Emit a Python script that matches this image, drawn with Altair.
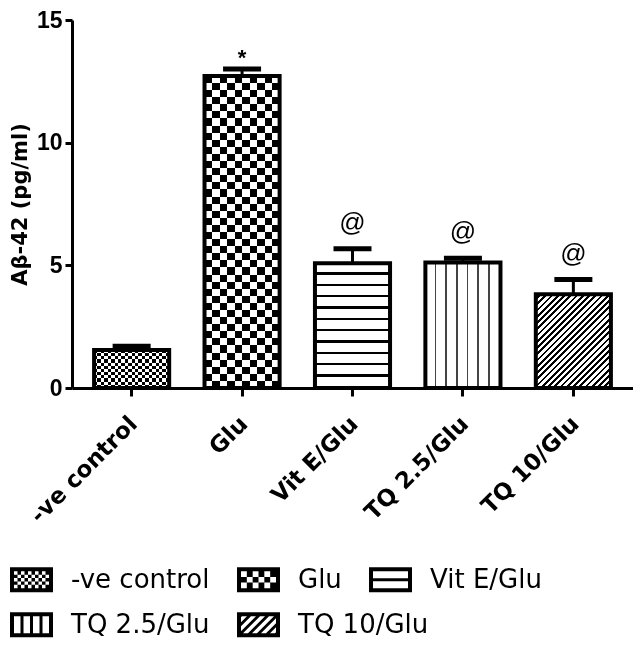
import altair as alt
import pandas as pd

# ---------------- data ----------------
categories = ["-ve control", "Glu", "Vit E/Glu", "TQ 2.5/Glu", "TQ 10/Glu"]
means = [1.55, 12.72, 5.08, 5.12, 3.82]
errors = [0.15, 0.28, 0.60, 0.17, 0.60]
sig_marks = ["", "*", "@", "@", "@"]
y_ticks = [0, 5, 10, 15]
y_title = "A\u03b2-42 (pg/ml)"
legend_rows = [categories[:3], categories[3:]]

df = pd.DataFrame({"group": categories, "mean": means, "err": errors, "sig": sig_marks})
df["top"] = df["mean"] + df["err"]

# ---------------- pattern helpers (style only) ----------------
def stripes(n, frac_dark, x2, y2, dark="black", light="white"):
    stops = []
    for i in range(n):
        a = i / n
        b = (i + 1 - frac_dark) / n
        c = (i + 1) / n
        stops += [
            alt.GradientStop(color=light, offset=round(a, 5)),
            alt.GradientStop(color=light, offset=round(b, 5)),
            alt.GradientStop(color=dark, offset=round(b, 5)),
            alt.GradientStop(color=dark, offset=round(c, 5)),
        ]
    return alt.LinearGradient(gradient="linear", stops=stops, x1=0, y1=0, x2=x2, y2=y2)

fill_specs = {
    "-ve control": [(stripes(11, 0.5, 1, 0), None), (stripes(6, 0.5, 0, 1), "difference")],
    "Glu": [(stripes(5, 0.5, 1, 0), None), (stripes(22, 0.5, 0, 1), "difference")],
    "Vit E/Glu": [(stripes(11, 0.2, 0, 1), None)],
    "TQ 2.5/Glu": [(stripes(7, 0.15, 1, 0, dark="#444444"), None)],
    "TQ 10/Glu": [(stripes(27, 0.45, 0.878, 1.098), None)],
}

# legend symbol paths (black body with white holes)
R = 21.5
HW, HH, B = 21.5, 12.5, 4.0
XI0, XI1, YI0, YI1 = -HW + B, HW - B, -HH + B, HH - B

def sarea(pts):
    s = 0.0
    for k in range(len(pts)):
        x1, y1 = pts[k]
        x2, y2 = pts[(k + 1) % len(pts)]
        s += x1 * y2 - x2 * y1
    return s

def poly(pts, hole=False):
    if hole and sarea(pts) > 0:
        pts = pts[::-1]
    if not hole and sarea(pts) < 0:
        pts = pts[::-1]
    return "M" + "L".join(f"{x / R:.3f},{y / R:.3f}" for x, y in pts) + "Z"

def rect(x0, y0, x1, y1):
    return [(x0, y0), (x1, y0), (x1, y1), (x0, y1)]

OUTER = poly(rect(-HW, -HH, HW, HH))

def checker_path(nx, ny):
    cw, ch = (XI1 - XI0) / nx, (YI1 - YI0) / ny
    p = OUTER
    for i in range(nx):
        for j in range(ny):
            if (i + j) % 2 == 0:
                p += poly(rect(XI0 + i * cw, YI0 + j * ch, XI0 + (i + 1) * cw, YI0 + (j + 1) * ch), True)
    return p

def clip(pts, f):
    out = []
    for k in range(len(pts)):
        p, q = pts[k], pts[(k + 1) % len(pts)]
        fp, fq = f(p), f(q)
        if fp >= 0:
            out.append(p)
        if (fp >= 0) != (fq >= 0):
            t = fp / (fp - fq)
            out.append((p[0] + t * (q[0] - p[0]), p[1] + t * (q[1] - p[1])))
    return out

def diag_path(period=9.0, white=5.0):
    p = OUTER
    c = -(HW + HH) - period
    while c < HW + HH:
        c0, c1 = c, c + white
        band = clip(rect(XI0, YI0, XI1, YI1), lambda q: q[0] + q[1] - c0)
        band = clip(band, lambda q: c1 - (q[0] + q[1])) if band else band
        if len(band) >= 3 and abs(sarea(band)) > 0.5:
            p += poly(band, True)
        c += period
    return p

hpath = OUTER + poly(rect(XI0, YI0, XI1, -1.5), True) + poly(rect(XI0, 1.5, XI1, YI1), True)
vw = (XI1 - XI0 - 9) / 4
vpath = OUTER + "".join(
    poly(rect(XI0 + k * (vw + 3), YI0, XI0 + k * (vw + 3) + vw, YI1), True) for k in range(4)
)
shape_paths = dict(zip(categories, [checker_path(10, 5), checker_path(6, 3), hpath, vpath, diag_path()]))

# ---------------- chart ----------------
x_enc = alt.X(
    "group:N",
    sort=categories,
    scale=alt.Scale(domain=categories, paddingInner=0.32, paddingOuter=0.2),
    title=None,
    axis=alt.Axis(
        labelAngle=-45, labelAlign="right", labelBaseline="middle",
        labelFont="DejaVu Sans", labelFontWeight="bold", labelFontSize=23,
        labelColor="black", labelPadding=24, labelOffset=2,
        tickSize=8, tickWidth=3, tickColor="black",
        domainWidth=3, domainColor="black", grid=False,
    ),
)

def y_enc(field):
    return alt.Y(
        f"{field}:Q",
        scale=alt.Scale(domain=[0, 15], nice=False),
        title=y_title,
        axis=alt.Axis(
            values=y_ticks, labelFont="Liberation Sans", labelFontWeight="bold",
            labelFontSize=23, labelColor="black", labelPadding=3,
            tickSize=7, tickWidth=3, tickColor="black",
            domainWidth=3, domainColor="black", grid=False,
            titleFont="DejaVu Sans", titleFontWeight="bold", titleFontSize=21,
            titleColor="black", titleX=-42,
        ),
    )

base = alt.Chart(df).encode(x=x_enc, y=y_enc("mean"))

layers = []
for cat in categories:
    for grad, blend in fill_specs[cat]:
        kw = {"fill": grad, "strokeWidth": 0}
        if blend:
            kw["blend"] = blend
        layers.append(base.transform_filter(alt.datum.group == cat).mark_bar(**kw))

outline = base.mark_bar(fillOpacity=0, stroke="black", strokeWidth=4)
stem = base.mark_rule(color="black", strokeWidth=3).encode(y=y_enc("mean"), y2="top:Q")
cap = base.mark_tick(color="black", opacity=1, thickness=5, size=38).encode(y=y_enc("top"))
star = base.transform_filter(alt.datum.sig == "*").mark_text(
    font="Liberation Sans", fontWeight="bold", fontSize=22, baseline="alphabetic", dy=-4, color="black"
).encode(y=y_enc("top"), text="sig:N")
at = base.transform_filter(alt.datum.sig == "@").mark_text(
    font="Liberation Sans", fontSize=26, baseline="alphabetic", dy=-18, color="black"
).encode(y=y_enc("top"), text="sig:N")

legend_layers = []
for row, ly in zip(legend_rows, [538, 583]):
    legend_layers.append(
        base.transform_filter(alt.FieldOneOfPredicate(field="group", oneOf=row))
        .mark_point(filled=True, opacity=0, size=1849, color="black")
        .encode(
            shape=alt.Shape(
                "group:N",
                sort=row,
                scale=alt.Scale(domain=row, range=[shape_paths[c] for c in row]),
                legend=alt.Legend(
                    title=None, orient="none", legendX=-62, legendY=ly,
                    direction="horizontal", columnPadding=27, labelOffset=18,
                    symbolSize=1849, symbolStrokeWidth=0, symbolFillColor="black",
                    symbolOpacity=1, labelFont="DejaVu Sans", labelFontSize=26,
                    labelColor="black", labelLimit=400, padding=0,
                ),
            )
        )
    )

chart = (
    alt.layer(*layers, outline, stem, cap, star, at, *legend_layers)
    .resolve_scale(shape="independent")
    .properties(
        width=561,
        height=368,
        padding={"left": 64, "top": 12, "right": 0, "bottom": 251},
        autosize=alt.AutoSizeParams(type="none"),
        background="white",
    )
    .configure_view(strokeWidth=0)
)

chart.save("out.html", embed_options={"renderer": "svg", "actions": False})
